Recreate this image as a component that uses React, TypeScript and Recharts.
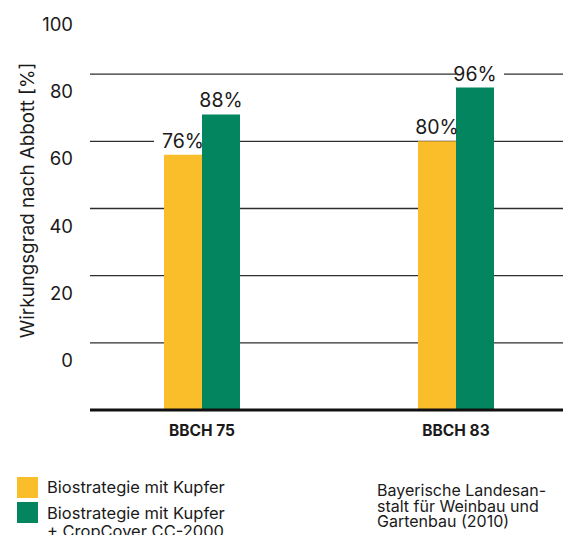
import { BarChart, Bar, XAxis, YAxis, CartesianGrid, LabelList } from 'recharts'

const ORANGE = '#FBBE2B'
const GREEN  = '#03865F'
const INK    = '#1a1a1a'
const FONT   = 'Inter, "Noto Sans", sans-serif'

// categories and series (Wirkungsgrad nach Abbott, %)
const stages = ['BBCH 75', 'BBCH 83']
const kupfer = [76, 80]
const kupferCropCover = [88, 96]

// y tick labels as printed in the source (they sit one step off their gridlines)
const yTickLabels = ['100', '80', '60', '40', '20', '0']
const yTickValues = [120, 100, 80, 60, 40, 20]
const gridValues = [100, 80, 60, 40, 20]

const legendItems = ['Biostrategie mit Kupfer', 'Biostrategie mit Kupfer\n+ CropCover CC-2000']
const source = 'Bayerische Landesan-\nstalt für Weinbau und\nGartenbau (2010)'

const data = stages.map((s, i) => ({ stage: s, kupfer: kupfer[i], cropcover: kupferCropCover[i] }))

interface LabelProps { x?: number; y?: number; width?: number; value?: number }

function valueLabel(side: 'left' | 'right') {
  return function ValueLabel({ x = 0, y = 0, width = 0, value }: LabelProps) {
    const text = `${value}%`
    const tw = text.length * 14
    const cx = x + width / 2
    const cy = y - 14
    let bx0 = cx - tw / 2 - 8
    let bx1 = cx + tw / 2 + 8
    if (side === 'left') bx1 = Math.min(bx1, x + width)
    else bx0 = Math.max(bx0, x)
    return (
      <g>
        <rect x={bx0} y={cy - 8} width={bx1 - bx0} height={16} fill="#fff" />
        <text x={cx} y={cy} textAnchor="middle" dominantBaseline="central"
          fontSize={19.5} fill={INK} style={{ fontFamily: FONT }}>{text}</text>
      </g>
    )
  }
}

interface TickProps { x?: number; y?: number; index?: number }

function YTick({ x = 0, y = 0, index = 0 }: TickProps) {
  return (
    <text x={x} y={y + 17} textAnchor="end" dominantBaseline="central"
      fontSize={18.5} fill={INK} style={{ fontFamily: FONT }}>
      {yTickLabels[index]}
    </text>
  )
}

interface VB { viewBox?: { x: number; y: number; width: number; height: number } }

function YLabel({ viewBox }: VB) {
  if (!viewBox) return null
  const cx = viewBox.x + 27
  const cy = viewBox.y + viewBox.height / 2 - 8
  return (
    <text x={cx} y={cy} transform={`rotate(-90 ${cx} ${cy})`} textAnchor="middle"
      dominantBaseline="central" fontSize={18.8} fill={INK} style={{ fontFamily: FONT }}>
      Wirkungsgrad nach Abbott [%]
    </text>
  )
}

export default function App() {
  return (
    <div style={{ position: 'relative', width: 563, height: 535, overflow: 'hidden', fontFamily: FONT, color: INK }}>
      <style>{'body{margin:0}'}</style>
      <BarChart width={563} height={460} data={data}
        margin={{ top: 7, right: 0, left: 0, bottom: 0 }} barGap={0} barSize={38}>
        <CartesianGrid vertical={false} horizontalValues={gridValues} stroke="#2e2e2e" strokeWidth={1.4} />
        <XAxis dataKey="stage" height={50} padding={{ left: -15, right: -20 }}
          axisLine={{ stroke: '#111', strokeWidth: 3 }} tickLine={false} tickSize={0} tickMargin={15}
          tick={{ fontSize: 15.5, fontWeight: 700, fill: INK }} />
        <YAxis domain={[0, 120]} ticks={yTickValues} width={90} axisLine={false} tickLine={false}
          tickSize={0} tickMargin={17} tick={<YTick />} interval={0} label={<YLabel />} />
        <Bar dataKey="kupfer" fill={ORANGE} isAnimationActive={false}>
          <LabelList dataKey="kupfer" content={valueLabel('left')} />
        </Bar>
        <Bar dataKey="cropcover" fill={GREEN} isAnimationActive={false}>
          <LabelList dataKey="cropcover" content={valueLabel('right')} />
        </Bar>
      </BarChart>

      {legendItems.map((label, i) => (
        <div key={i}>
          <div style={{ position: 'absolute', left: 17, top: 477 + i * 25, width: 21, height: 21,
            background: i === 0 ? ORANGE : GREEN }} />
          <div style={{ position: 'absolute', left: 47, top: 479 + i * 26, fontSize: 16.5, lineHeight: '17.5px',
            whiteSpace: 'pre' }}>{label}</div>
        </div>
      ))}
      <div style={{ position: 'absolute', left: 377, top: 483, fontSize: 16, lineHeight: '15.5px',
        whiteSpace: 'pre' }}>{source}</div>
    </div>
  )
}
